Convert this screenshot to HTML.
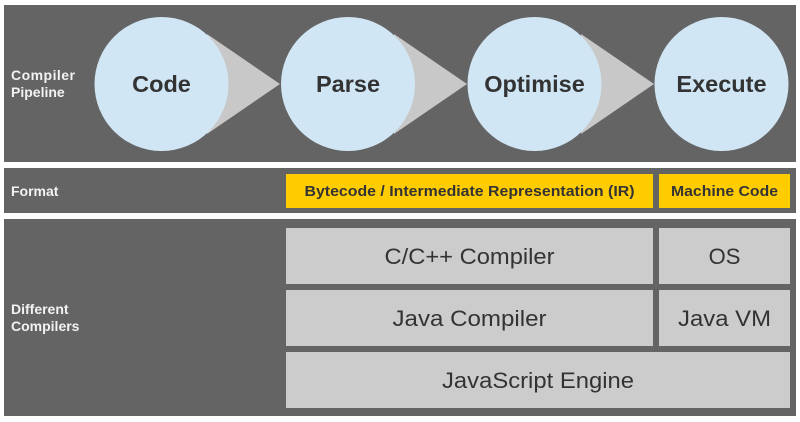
<!DOCTYPE html>
<html><head><meta charset="utf-8"><style>
html,body{margin:0;padding:0;background:#fff;width:800px;height:422px;overflow:hidden}
svg{display:block;font-family:"Liberation Sans",Arial,sans-serif}
</style></head><body>
<svg width="800" height="422" viewBox="0 0 800 422">
<rect x="0" y="0" width="800" height="422" fill="#fff"/>
<rect x="4" y="5" width="792" height="157" fill="#646464"/>
<rect x="4" y="168" width="792" height="45" fill="#646464"/>
<rect x="4" y="219" width="792" height="197" fill="#646464"/>

<g fill="#c8c8c8">
<polygon points="207,34 280,84 207,134"/>
<polygon points="394,34 467,84 394,134"/>
<polygon points="581,34 654,84 581,134"/>
</g>
<g fill="#d0e6f4">
<circle cx="161.5" cy="84" r="67"/>
<circle cx="348" cy="84" r="67"/>
<circle cx="534.5" cy="84" r="67"/>
<circle cx="721.5" cy="84" r="67"/>
</g>
<g fill="#333" font-size="23.5" font-weight="bold" text-anchor="middle">
<text x="161.5" y="92">Code</text>
<text x="348" y="92">Parse</text>
<text x="534.5" y="92">Optimise</text>
<text x="721.5" y="92">Execute</text>
</g>

<g fill="#f2f2f2" font-size="14" font-weight="bold">
<text x="11" y="80" textLength="64">Compiler</text>
<text x="11" y="97">Pipeline</text>
<text x="11" y="196">Format</text>
<text x="11" y="314">Different</text>
<text x="11" y="331">Compilers</text>
</g>

<rect x="286" y="174" width="367" height="34" fill="#ffcc00"/>
<rect x="659" y="174" width="131" height="34" fill="#ffcc00"/>
<g fill="#333" font-size="14.5" font-weight="bold" text-anchor="middle">
<text x="469.5" y="196" textLength="330" lengthAdjust="spacingAndGlyphs">Bytecode / Intermediate Representation (IR)</text>
<text x="724.5" y="196" textLength="107" lengthAdjust="spacingAndGlyphs">Machine Code</text>
</g>

<g fill="#cccccc">
<rect x="286" y="228" width="367" height="56"/>
<rect x="659" y="228" width="131" height="56"/>
<rect x="286" y="290" width="367" height="56"/>
<rect x="659" y="290" width="131" height="56"/>
<rect x="286" y="352" width="504" height="56"/>
</g>
<g fill="#333" font-size="22" text-anchor="middle">
<text x="469.5" y="264" textLength="170" lengthAdjust="spacingAndGlyphs">C/C++ Compiler</text>
<text x="724.5" y="264">OS</text>
<text x="469.5" y="326" textLength="154" lengthAdjust="spacingAndGlyphs">Java Compiler</text>
<text x="724.5" y="326" textLength="93" lengthAdjust="spacingAndGlyphs">Java VM</text>
<text x="538" y="388" textLength="192" lengthAdjust="spacingAndGlyphs">JavaScript Engine</text>
</g>
</svg>
</body></html>
